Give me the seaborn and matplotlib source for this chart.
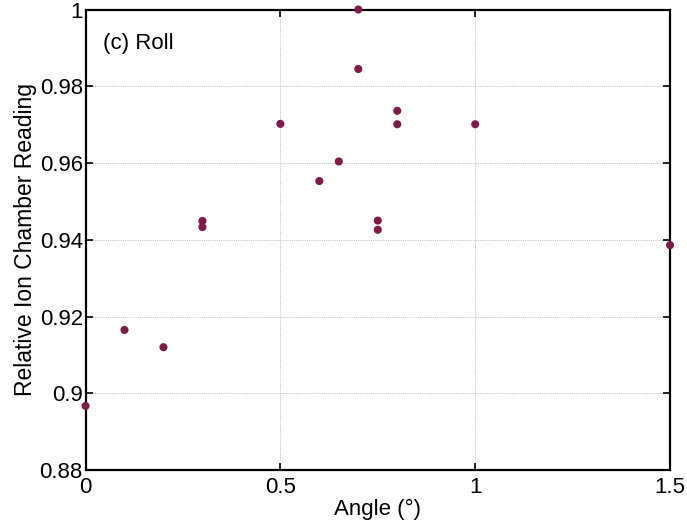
import matplotlib
matplotlib.use("Agg")
import matplotlib.pyplot as plt
import seaborn as sns
import pandas as pd
from matplotlib.ticker import FuncFormatter

angle = [0.0, 0.1, 0.2, 0.3, 0.3, 0.5, 0.6, 0.65, 0.7, 0.7, 0.75, 0.75, 0.8, 0.8, 1.0, 1.5]
reading = [0.8967, 0.9165, 0.9120, 0.9449, 0.9433, 0.9702, 0.9553, 0.9604, 1.0000,
           0.9845, 0.9450, 0.9426, 0.9736, 0.9701, 0.9701, 0.9386]
x_ticks = [0, 0.5, 1, 1.5]
y_ticks = [0.88, 0.90, 0.92, 0.94, 0.96, 0.98, 1.00]

df = pd.DataFrame({"Angle": angle, "Reading": reading})

sns.set_theme(style="white")
plt.rcParams["font.family"] = ["Liberation Sans", "DejaVu Sans"]
plt.rcParams["text.color"] = "black"
plt.rcParams["axes.labelcolor"] = "black"

fig = plt.figure(figsize=(6.87, 5.22), dpi=100)
ax = fig.add_axes([0.1245, 0.0996, 0.8508, 0.8822])

sns.scatterplot(data=df, x="Angle", y="Reading", ax=ax, color="#7f1a4b",
                s=34, edgecolor="none", linewidth=0, clip_on=False, zorder=5)

ax.set_xlim(0, 1.5)
ax.set_ylim(0.88, 1.0)
ax.set_xticks(x_ticks)
ax.set_yticks(y_ticks)
fmt = FuncFormatter(lambda v, p: f"{v:g}")
ax.xaxis.set_major_formatter(fmt)
ax.yaxis.set_major_formatter(fmt)

ax.grid(True, color="#bdbdbd", linestyle=(0, (1, 1.2)), linewidth=0.7)
for sp in ax.spines.values():
    sp.set_visible(True)
    sp.set_color("black")
    sp.set_linewidth(1.6)

ax.tick_params(direction="in", length=5, width=1.2, top=True, right=True,
               bottom=True, left=True, labelsize=16, colors="black")
ax.tick_params(axis="y", pad=2)
ax.tick_params(axis="x", pad=5)

ax.set_xlabel("Angle (°)", fontsize=16, labelpad=1)
ax.set_ylabel("Relative Ion Chamber Reading", fontsize=16.5, labelpad=2)

ax.text(0.0294, 0.927, "(c) Roll", transform=ax.transAxes, fontsize=16,
        ha="left", va="center")

fig.savefig("out.png", dpi=100)
